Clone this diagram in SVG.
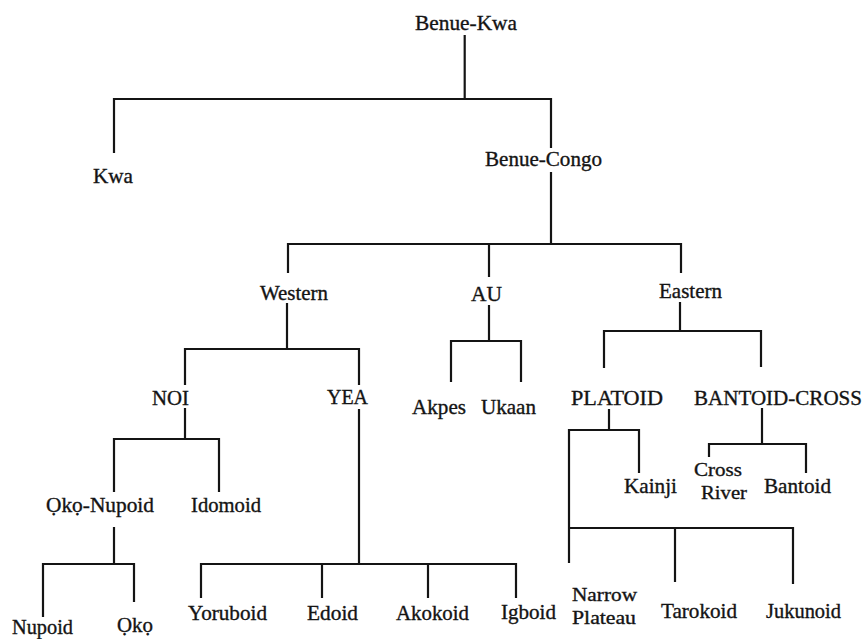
<svg xmlns="http://www.w3.org/2000/svg" width="868" height="639" viewBox="0 0 868 639">
  <style>
    .lbl { font-family: "Liberation Serif", "Times New Roman", serif; font-size: 21px; fill: #141414; stroke: #141414; stroke-width: 0.35; text-anchor: middle; }
    .tight { font-size: 19px; }
    .edge { fill: none; stroke: #141414; stroke-width: 2.2; stroke-linejoin: miter; }
  </style>
  <rect width="868" height="639" fill="#ffffff"/>

  <g id="connectors">
    <!-- Benue-Kwa split -->
    <path class="edge" d="M464.7,35 V99"/>
    <path class="edge" d="M114,153 V99 H551 V148"/>
    <!-- Benue-Congo split -->
    <path class="edge" d="M551,172 V244"/>
    <path class="edge" d="M288,273 V244 H681 V273"/>
    <path class="edge" d="M489,244 V277"/>
    <!-- Western split -->
    <path class="edge" d="M287,303 V349"/>
    <path class="edge" d="M185,385 V349 H359 V385"/>
    <!-- AU split -->
    <path class="edge" d="M489,305 V341"/>
    <path class="edge" d="M451,382 V341 H521 V382"/>
    <!-- Eastern split -->
    <path class="edge" d="M680,302 V331"/>
    <path class="edge" d="M604,368 V331 H761 V367"/>
    <!-- NOI split -->
    <path class="edge" d="M185,408 V439"/>
    <path class="edge" d="M114,492 V439 H219 V492"/>
    <!-- YEA split -->
    <path class="edge" d="M359,409 V564"/>
    <path class="edge" d="M201,598 V564 H516 V598"/>
    <path class="edge" d="M322,564 V598"/>
    <path class="edge" d="M428,564 V598"/>
    <!-- Oko-Nupoid split -->
    <path class="edge" d="M114,527 V564"/>
    <path class="edge" d="M43,617 V564 H134 V602"/>
    <!-- PLATOID split -->
    <path class="edge" d="M609,409 V430"/>
    <path class="edge" d="M569,563 V430 H639 V473"/>
    <path class="edge" d="M569,528 H793 V584"/>
    <path class="edge" d="M675,528 V582"/>
    <!-- BANTOID-CROSS split -->
    <path class="edge" d="M762,408 V444"/>
    <path class="edge" d="M709,457 V444 H806 V473"/>
  </g>

  <g id="benue-kwa"><text class="lbl" x="466" y="30" textLength="102" lengthAdjust="spacingAndGlyphs">Benue-Kwa</text></g>
  <g id="kwa"><text class="lbl" x="113" y="183" textLength="40" lengthAdjust="spacingAndGlyphs">Kwa</text></g>
  <g id="benue-congo"><text class="lbl" x="543.5" y="166" textLength="117" lengthAdjust="spacingAndGlyphs">Benue-Congo</text></g>
  <g id="western"><text class="lbl" x="294" y="300" textLength="68" lengthAdjust="spacingAndGlyphs">Western</text></g>
  <g id="au"><text class="lbl" x="486.5" y="301" textLength="31" lengthAdjust="spacingAndGlyphs">AU</text></g>
  <g id="eastern"><text class="lbl" x="690.5" y="298" textLength="63" lengthAdjust="spacingAndGlyphs">Eastern</text></g>
  <g id="noi"><text class="lbl" x="170.5" y="405" textLength="37" lengthAdjust="spacingAndGlyphs">NOI</text></g>
  <g id="yea"><text class="lbl" x="347.5" y="404" textLength="41" lengthAdjust="spacingAndGlyphs">YEA</text></g>
  <g id="akpes"><text class="lbl" x="439" y="414" textLength="54" lengthAdjust="spacingAndGlyphs">Akpes</text></g>
  <g id="ukaan"><text class="lbl" x="508.5" y="414" textLength="55" lengthAdjust="spacingAndGlyphs">Ukaan</text></g>
  <g id="platoid"><text class="lbl" x="617" y="405" textLength="92" lengthAdjust="spacingAndGlyphs">PLATOID</text></g>
  <g id="bantoid-cross"><text class="lbl" x="778" y="405" textLength="168" lengthAdjust="spacingAndGlyphs">BANTOID-CROSS</text></g>
  <g id="oko-nupoid"><text class="lbl" x="100" y="512" textLength="108" lengthAdjust="spacingAndGlyphs">Ọkọ-Nupoid</text></g>
  <g id="idomoid"><text class="lbl" x="226" y="512" textLength="70" lengthAdjust="spacingAndGlyphs">Idomoid</text></g>
  <g id="kainji"><text class="lbl" x="650.5" y="493" textLength="53" lengthAdjust="spacingAndGlyphs">Kainji</text></g>
  <g id="cross-river">
    <text class="lbl tight" x="718" y="476" textLength="48" lengthAdjust="spacingAndGlyphs">Cross</text>
    <text class="lbl tight" x="724" y="499" textLength="46" lengthAdjust="spacingAndGlyphs">River</text>
  </g>
  <g id="bantoid"><text class="lbl" x="797.5" y="493" textLength="67" lengthAdjust="spacingAndGlyphs">Bantoid</text></g>
  <g id="nupoid"><text class="lbl" x="42.5" y="634" textLength="61" lengthAdjust="spacingAndGlyphs">Nupoid</text></g>
  <g id="oko"><text class="lbl" x="135" y="632" textLength="36" lengthAdjust="spacingAndGlyphs">Ọkọ</text></g>
  <g id="yoruboid"><text class="lbl" x="227.5" y="620" textLength="79" lengthAdjust="spacingAndGlyphs">Yoruboid</text></g>
  <g id="edoid"><text class="lbl" x="332.5" y="620" textLength="51" lengthAdjust="spacingAndGlyphs">Edoid</text></g>
  <g id="akokoid"><text class="lbl" x="432.5" y="620" textLength="73" lengthAdjust="spacingAndGlyphs">Akokoid</text></g>
  <g id="igboid"><text class="lbl" x="528.5" y="619" textLength="55" lengthAdjust="spacingAndGlyphs">Igboid</text></g>
  <g id="narrow-plateau">
    <text class="lbl tight" x="604.5" y="601" textLength="65" lengthAdjust="spacingAndGlyphs">Narrow</text>
    <text class="lbl tight" x="604" y="624" textLength="64" lengthAdjust="spacingAndGlyphs">Plateau</text>
  </g>
  <g id="tarokoid"><text class="lbl" x="699" y="618" textLength="76" lengthAdjust="spacingAndGlyphs">Tarokoid</text></g>
  <g id="jukunoid"><text class="lbl" x="803.5" y="618" textLength="75" lengthAdjust="spacingAndGlyphs">Jukunoid</text></g>
</svg>
